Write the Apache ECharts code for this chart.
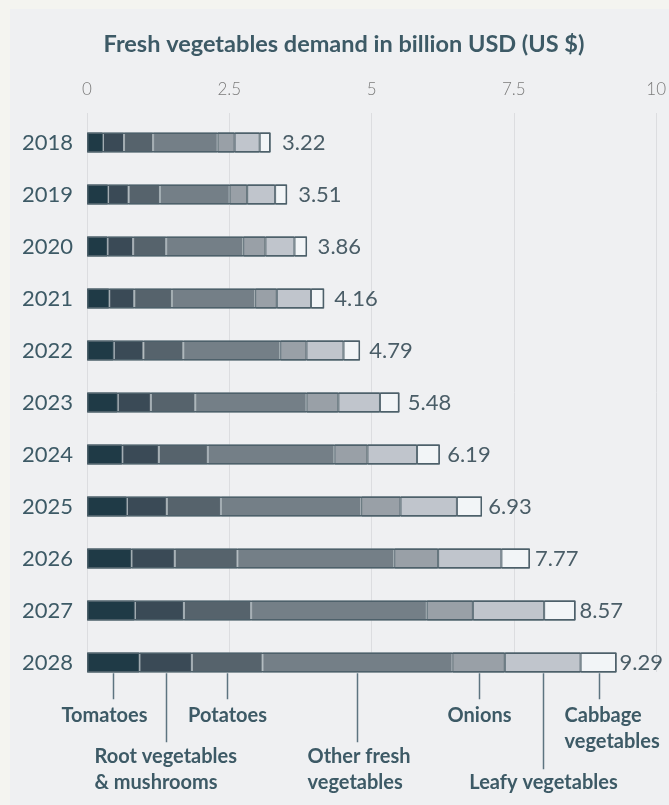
<!DOCTYPE html>
<html><head><meta charset="utf-8">
<script src="https://cdn.jsdelivr.net/npm/echarts@6/dist/echarts.min.js"></script>
<style>
html,body{margin:0;padding:0;background:#f4f4f0;}
#panel{position:absolute;left:10px;top:9px;width:659px;height:796px;background:#eff0f2;}
#c{position:absolute;left:0;top:0;width:669px;height:805px;}
</style>
</head><body><div id="panel"></div><div id="c"></div>
<script>
const years = ['2018','2019','2020','2021','2022','2023','2024','2025','2026','2027','2028'];
const tomatoes = [0.28,0.37,0.36,0.39,0.47,0.54,0.62,0.70,0.78,0.84,0.92];
const rootVeg  = [0.37,0.36,0.45,0.44,0.52,0.58,0.64,0.70,0.76,0.86,0.92];
const potatoes = [0.51,0.55,0.58,0.66,0.70,0.78,0.86,0.95,1.10,1.18,1.24];
const otherVeg = [1.13,1.22,1.35,1.46,1.70,1.95,2.22,2.46,2.75,3.08,3.33];
const onions   = [0.30,0.31,0.39,0.38,0.46,0.56,0.58,0.69,0.77,0.81,0.92];
const leafy    = [0.44,0.49,0.51,0.60,0.65,0.73,0.87,0.99,1.11,1.25,1.33];
const cabbage  = [0.19,0.21,0.22,0.23,0.29,0.34,0.40,0.44,0.50,0.55,0.63];
const totals   = [3.22,3.51,3.86,4.16,4.79,5.48,6.19,6.93,7.77,8.57,9.29];
const seriesNames = ['Tomatoes','Root vegetables & mushrooms','Potatoes','Other fresh vegetables','Onions','Leafy vegetables','Cabbage vegetables'];
const seriesData = [tomatoes, rootVeg, potatoes, otherVeg, onions, leafy, cabbage];
const annotLines = [['Tomatoes'],['Root vegetables','& mushrooms'],['Potatoes'],['Other fresh','vegetables'],['Onions'],['Leafy vegetables'],['Cabbage','vegetables']];

const colors = ['#1f3a46','#3a4a56','#56636c','#747f87','#99a0a7','#c0c5cc','#f2f5f7'];
const segBorders = ['#4d606a','#a3adb2','#a3adb2','#a3adb2','#5b6c75','#5b6c75','#5b6c75'];
const textColor = '#3d5a66';
const FONT = 'Lato, "Noto Sans", sans-serif';

const chart = echarts.init(document.getElementById('c'), null, {renderer:'canvas'});

const series = seriesData.map((d,i)=>({
  type:'bar', name:seriesNames[i], stack:'total', data:d, barWidth:20, barGap:'-100%',
  itemStyle:{color:colors[i], borderColor:segBorders[i], borderWidth:1},
  silent:true, z:2
}));
series.push({
  type:'bar', name:'Total', barWidth:20, barGap:'-100%', silent:true, z:3,
  data: totals.map(v=>({value:v, label:{distance: 16 - 1.4*v}})),
  itemStyle:{color:'rgba(0,0,0,0)', borderColor:'#4d606a', borderWidth:1.5},
  label:{show:true, position:'right', fontFamily:FONT, fontSize:22, color:'#4a5d67',
    formatter:p=>Number(p.value).toFixed(2)}
});

const option = {
  animation:false,
  backgroundColor:'transparent',
  title:{text:'Fresh vegetables demand in billion USD (US $)', left:344, top:30, padding:0,
    textAlign:'center',
    textStyle:{fontFamily:FONT, fontWeight:'bold', fontSize:23.5, color:textColor, lineHeight:28}},
  grid:[
    {left:87, right:12, top:116.5, height:572, containLabel:false},
    {left:87, right:12, top:113, bottom:133, containLabel:false}
  ],
  xAxis:[
    {gridIndex:0, type:'value', min:0, max:10, interval:2.5, show:false},
    {gridIndex:1, type:'value', min:0, max:10, interval:2.5, position:'top',
      axisLine:{show:false}, axisTick:{show:false},
      axisLabel:{fontFamily:FONT, fontWeight:300, fontSize:17, color:'#7b7b7b', margin:15},
      splitLine:{show:true, lineStyle:{color:'#dcdde0', width:1}}}
  ],
  yAxis:[
    {gridIndex:0, type:'category', data:years, inverse:true,
      axisLine:{show:false}, axisTick:{show:false},
      axisLabel:{fontFamily:FONT, fontSize:22, color:textColor, margin:14}},
    {gridIndex:1, type:'value', show:false}
  ],
  series: series
};
chart.setOption(option);

// annotation layout (styling): leader line length, text offset from line, alignment, first-line center below bar
const annotLayout = [
  {len:26, dx:-9,  align:'center', ty:42},
  {len:69, dx:-72, align:'left',   ty:83},
  {len:26, dx:0,   align:'center', ty:42},
  {len:69, dx:-50, align:'left',   ty:83},
  {len:26, dx:0,   align:'center', ty:42},
  {len:96, dx:0,   align:'center', ty:109},
  {len:26, dx:-35, align:'left',   ty:42}
];
const idx = years.length-1;
let cum = 0;
const elements = [];
seriesData.forEach((arr,i)=>{
  const v = arr[idx];
  const mid = cum + v/2; cum += v;
  const p = chart.convertToPixel({xAxisIndex:0, yAxisIndex:0}, [mid, years[idx]]);
  const x = Math.round(p[0]) + 0.5;
  const yb = p[1] + 10.75;
  const L = annotLayout[i];
  elements.push({type:'line', silent:true, shape:{x1:x, y1:yb, x2:x, y2:yb+L.len},
    style:{stroke:'#5d7480', lineWidth:1.5}});
  elements.push({type:'text', silent:true, x:x+L.dx, y:yb+L.ty-13,
    style:{text:annotLines[i].join('\n'), fill:textColor, font:'bold 20px ' + FONT,
      align:L.align, verticalAlign:'top', lineHeight:26}});
});
chart.setOption({graphic:{elements:elements}});
</script>
</body></html>
